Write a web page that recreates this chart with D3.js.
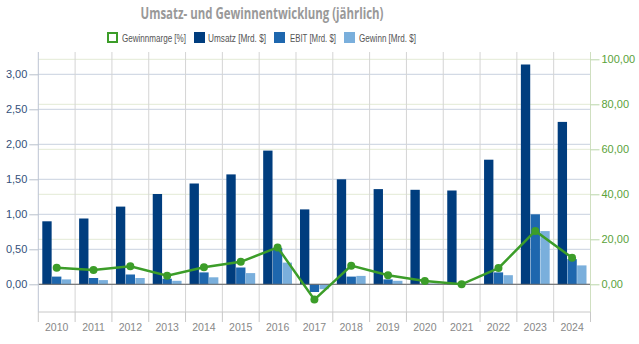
<!DOCTYPE html>
<html><head><meta charset="utf-8">
<script src="https://cdn.jsdelivr.net/npm/d3@7"></script>
<style>
body{margin:0;background:#fff;}
svg{display:block;font-family:"Liberation Sans",Arial,sans-serif;}
</style></head>
<body>
<svg id="c" width="639" height="344"></svg>
<script>
const years = ["2010","2011","2012","2013","2014","2015","2016","2017","2018","2019","2020","2021","2022","2023","2024"];
const umsatz = [0.90,0.94,1.11,1.29,1.44,1.57,1.91,1.07,1.50,1.36,1.35,1.34,1.78,3.14,2.32];
const ebit   = [0.11,0.09,0.14,0.08,0.17,0.24,0.52,-0.11,0.11,0.07,0.01,0,0.17,1.00,0.36];
const gewinn = [0.07,0.06,0.09,0.05,0.10,0.16,0.31,-0.07,0.12,0.05,0.01,0,0.13,0.76,0.27];
const marge  = [7.4,6.4,8.0,3.8,7.6,10.0,16.4,-6.8,8.3,4.0,1.5,0.0,7.2,23.7,11.8];
const leftTicks = [0,0.5,1,1.5,2,2.5,3];
const rightTicks = [0,20,40,60,80,100];

const svg = d3.select("#c");
const L = 38.3, R = 590.5, T = 52, B = 312;
const fmt = v => d3.format(".2f")(v).replace(".", ",");

const x = d3.scaleBand().domain(years).range([L, R]).paddingInner(0).paddingOuter(0);
const yL = d3.scaleLinear().domain([0, 3]).range([284.3, 74.3]);
const yR = d3.scaleLinear().domain([0, 100]).range([284.3, 59.3]);
const inner = d3.scaleBand().domain(["u","e","g"]).range([4, x.bandwidth() - 4]).paddingInner(0.04);

// title
svg.append("text").attr("x", 262).attr("y", 19).attr("text-anchor", "middle")
  .attr("font-family", "'Open Sans', sans-serif").attr("font-weight", "bold")
  .attr("font-size", 16).attr("fill", "#999").attr("textLength", 243).attr("lengthAdjust","spacingAndGlyphs")
  .text("Umsatz- und Gewinnentwicklung (jährlich)");

// legend
const legend = [
  {name:"Gewinnmarge [%]", x:107, tx:122, w:64, hollow:true, color:"#3c9d29"},
  {name:"Umsatz [Mrd. $]", x:194, tx:208, w:58, color:"#003d7e"},
  {name:"EBIT [Mrd. $]", x:274, tx:290, w:46, color:"#1e67ae"},
  {name:"Gewinn [Mrd. $]", x:344, tx:359, w:57, color:"#7aafdc"}
];
legend.forEach(d => {
  if (d.hollow) {
    svg.append("rect").attr("x", d.x+1).attr("y", 32+1).attr("width", 9).attr("height", 9)
      .attr("fill", "none").attr("stroke", d.color).attr("stroke-width", 2);
  } else {
    svg.append("rect").attr("x", d.x).attr("y", 32).attr("width", 11).attr("height", 11).attr("fill", d.color);
  }
  svg.append("text").attr("x", d.tx).attr("y", 41.5).attr("font-size", 10).attr("fill", "#555")
    .attr("textLength", d.w).attr("lengthAdjust", "spacingAndGlyphs").text(d.name);
});

// gridlines right (green-ish)
svg.append("g").selectAll("line").data(rightTicks).join("line")
  .attr("x1", L).attr("x2", R).attr("y1", d => yR(d)).attr("y2", d => yR(d))
  .attr("stroke", "#e3ead5").attr("stroke-width", 1);
// gridlines left
svg.append("g").selectAll("line").data(leftTicks).join("line")
  .attr("x1", L).attr("x2", R).attr("y1", d => yL(d)).attr("y2", d => yL(d))
  .attr("stroke", "#c9d1df").attr("stroke-width", 1);
// vertical gridlines
svg.append("g").selectAll("line").data(years.slice(1)).join("line")
  .attr("x1", d => x(d)).attr("x2", d => x(d)).attr("y1", T).attr("y2", B)
  .attr("stroke", "#d4d4d4");

// bars
const series = [
  {key:"u", vals:umsatz, color:"#003d7e"},
  {key:"e", vals:ebit, color:"#1e67ae"},
  {key:"g", vals:gewinn, color:"#7aafdc"}
];
series.forEach(s => {
  svg.append("g").selectAll("rect").data(years).join("rect")
    .attr("x", (d) => x(d) + inner(s.key))
    .attr("width", inner.bandwidth())
    .attr("y", (d,i) => Math.min(yL(s.vals[i]), yL(0)))
    .attr("height", (d,i) => Math.abs(yL(s.vals[i]) - yL(0)))
    .attr("fill", s.color);
});

// zero line
svg.append("line").attr("x1", L).attr("x2", R).attr("y1", yL(0)).attr("y2", yL(0))
  .attr("stroke", "#666").attr("stroke-width", 1);

// axis lines
svg.append("line").attr("x1", L).attr("x2", L).attr("y1", T).attr("y2", B).attr("stroke", "#bcc4d2");
svg.append("line").attr("x1", R).attr("x2", R).attr("y1", T).attr("y2", B).attr("stroke", "#cfdfc0");
svg.append("line").attr("x1", L).attr("x2", R).attr("y1", B).attr("y2", B).attr("stroke", "#c8c8c8");

// left axis
const gl = svg.append("g").attr("transform", `translate(${L},0)`)
  .call(d3.axisLeft(yL).tickValues(leftTicks).tickFormat(fmt).tickSize(9).tickPadding(2));
gl.select(".domain").remove();
gl.selectAll("line").attr("stroke", "#b8c0cc");
gl.selectAll("text").attr("fill", "#34507a").attr("font-size", 11).attr("font-family", "'Liberation Sans',Arial,sans-serif");

// right axis
const gr = svg.append("g").attr("transform", `translate(${R},0)`)
  .call(d3.axisRight(yR).tickValues(rightTicks).tickFormat(fmt).tickSize(9).tickPadding(2));
gr.select(".domain").remove();
gr.selectAll("line").attr("stroke", "#b9d6a8");
gr.selectAll("text").attr("fill", "#5aa23a").attr("font-size", 11).attr("font-family", "'Liberation Sans',Arial,sans-serif");

// x axis ticks at category boundaries
svg.append("g").selectAll("line").data(years.concat(["end"])).join("line")
  .attr("x1", (d,i) => i < years.length ? x(d) : R)
  .attr("x2", (d,i) => i < years.length ? x(d) : R)
  .attr("y1", B).attr("y2", B + 10).attr("stroke", "#c8c8c8");
svg.append("g").selectAll("text").data(years).join("text")
  .attr("x", d => x(d) + x.bandwidth()/2).attr("y", 331)
  .attr("text-anchor", "middle").attr("font-size", 10.5).attr("fill", "#888").text(d => d);

// line
const cx = d => x(d) + x.bandwidth()/2;
svg.append("path").datum(years)
  .attr("d", d3.line().x(d => cx(d)).y((d,i) => yR(marge[i])))
  .attr("fill", "none").attr("stroke", "#3c9d29").attr("stroke-width", 2.5);
svg.append("g").selectAll("circle").data(years).join("circle")
  .attr("cx", d => cx(d)).attr("cy", (d,i) => yR(marge[i])).attr("r", 4)
  .attr("fill", "#3c9d29");
</script>
</body></html>
